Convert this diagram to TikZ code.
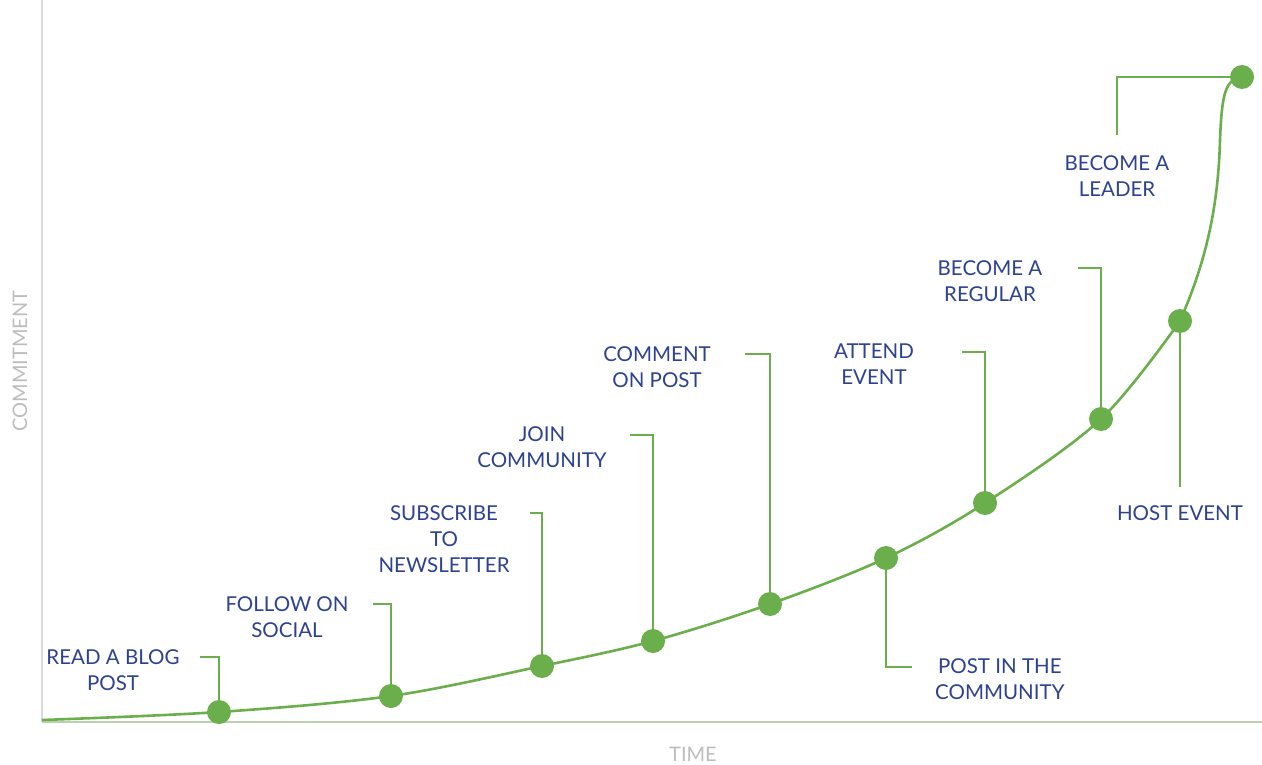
\documentclass[tikz,border=0pt]{standalone}
\usepackage{fontspec}
\setmainfont{Lato}
\usetikzlibrary{backgrounds}
\definecolor{stepgreen}{HTML}{6BAE4C}
\definecolor{stepblue}{HTML}{2C4190}
\definecolor{axisgrey}{HTML}{DADADA}
\definecolor{axisgreen}{HTML}{BCCFB0}
\definecolor{labelgrey}{HTML}{BDBDBD}

\begin{document}
\begin{tikzpicture}[x=1pt,y=-1pt,
    dot/.style={circle,fill=stepgreen,minimum size=24pt,inner sep=0pt},
    leader/.style={draw=stepgreen,line width=2.6pt},
    lbl/.style={text=stepblue,font=\fontsize{20.5}{26}\selectfont,align=center,inner sep=0pt},
    axlbl/.style={text=labelgrey,font=\fontsize{20}{22}\selectfont,inner sep=0pt}]
    \useasboundingbox (0,0) rectangle (1262,765);
    % axes
    \coordinate (O) at (42,722);
    \coordinate (ytop) at (42,0);
    \coordinate (xend) at (1262,722);
    \node[axlbl,rotate=90] (ylab) at (20,361) {COMMITMENT};
    \node[axlbl] (xlab) at (693,754) {TIME};
    % the steps
    \node[dot] (d1) at (219,712) {};
    \node[dot] (d2) at (391,696) {};
    \node[dot] (d3) at (542,666) {};
    \node[dot] (d4) at (653,641) {};
    \node[dot] (d5) at (770,604) {};
    \node[dot] (d6) at (886,558) {};
    \node[dot] (d7) at (985,503) {};
    \node[dot] (d8) at (1101,419) {};
    \node[dot] (d9) at (1180,321) {};
    \node[dot] (d10) at (1242,77) {};
    % leader ends
    \coordinate (e1) at (200,657);
    \coordinate (e2) at (373,604);
    \coordinate (e3) at (530,513);
    \coordinate (e4) at (630,435);
    \coordinate (e5) at (745,354);
    \coordinate (e6) at (912,667);
    \coordinate (e7) at (962,352);
    \coordinate (e8) at (1078,268);
    \coordinate (e9) at (1180,487);
    \coordinate (e10) at (1117,135);
    % labels
    \node[lbl] (t1) at (113,670) {READ A BLOG\\POST};
    \node[lbl] (t2) at (287,617) {FOLLOW ON\\SOCIAL};
    \node[lbl] (t3) at (444,539) {SUBSCRIBE\\TO\\NEWSLETTER};
    \node[lbl] (t4) at (542,447) {JOIN\\COMMUNITY};
    \node[lbl] (t5) at (657,367) {COMMENT\\ON POST};
    \node[lbl,anchor=west] (t6) at (935,679) {POST IN THE\\COMMUNITY};
    \node[lbl] (t7) at (874,364) {ATTEND\\EVENT};
    \node[lbl] (t8) at (990,281) {BECOME A\\REGULAR};
    \node[lbl] (t9) at (1180,513) {HOST EVENT};
    \node[lbl] (t10) at (1117,176) {BECOME A\\LEADER};
    \begin{scope}[on background layer]
      \draw[axisgrey,line width=1.5pt] (ytop) -- (O);
      \draw[axisgreen,line width=2pt] (O) -- (xend);
      \draw[stepgreen,line width=2.6pt] plot[smooth,tension=0.55] coordinates {(42,720) (d1.center) (d2.center) (d3.center) (d4.center) (d5.center) (d6.center) (d7.center) (d8.center) (d9.center)}
        .. controls (1203,268) and (1218,215) .. (1220,140)
        .. controls (1222,90) and (1226,80) .. (d10.center);
      \draw[leader] (d1.center) |- (e1);
      \draw[leader] (d2.center) |- (e2);
      \draw[leader] (d3.center) |- (e3);
      \draw[leader] (d4.center) |- (e4);
      \draw[leader] (d5.center) |- (e5);
      \draw[leader] (d6.center) |- (e6);
      \draw[leader] (d7.center) |- (e7);
      \draw[leader] (d8.center) |- (e8);
      \draw[leader] (d9.center) -- (e9);
      \draw[leader] (d10.center) -| (e10);
    \end{scope}
\end{tikzpicture}
\end{document}
